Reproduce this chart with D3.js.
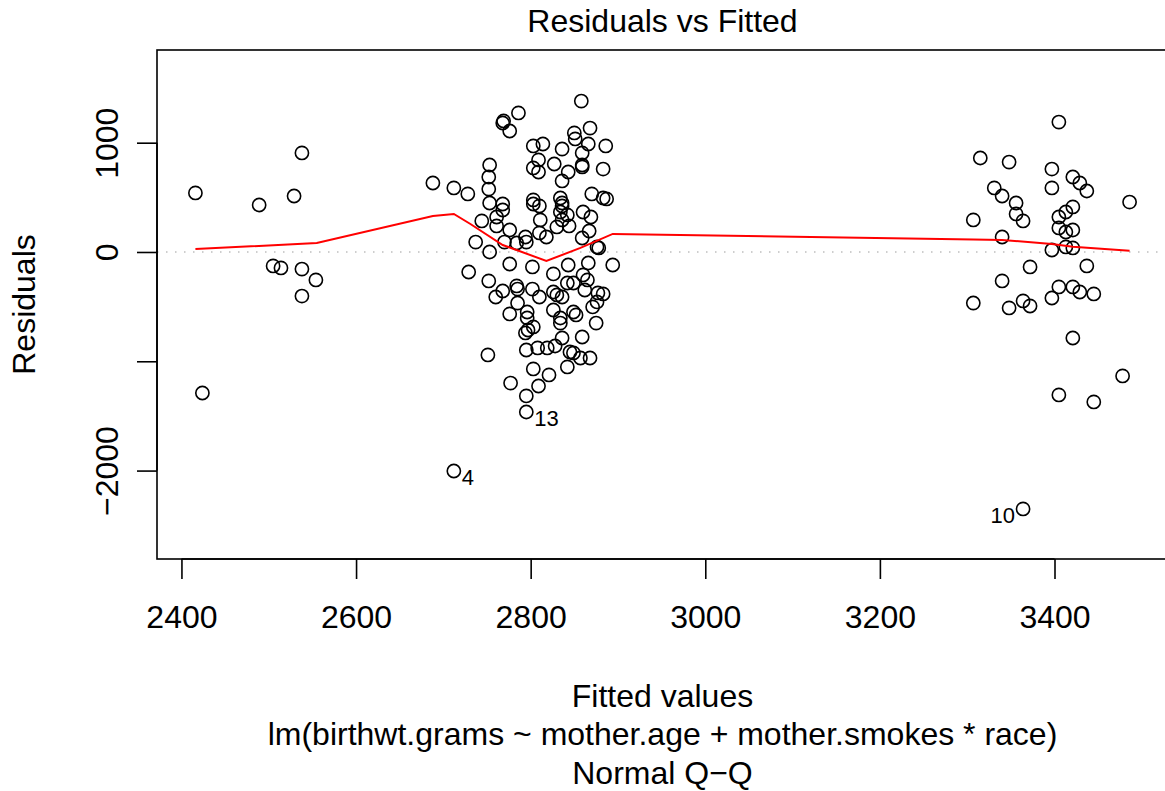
<!DOCTYPE html>
<html>
<head>
<meta charset="utf-8">
<script src="https://cdn.jsdelivr.net/npm/d3@7"></script>
<style>
  html, body { margin: 0; padding: 0; background: #fff; }
  svg { display: block; font-family: "Liberation Sans", Arial, sans-serif; }
</style>
</head>
<body>
<svg id="chart" width="1165" height="791"></svg>
<script>
// ---------- data ----------
const fittedValues = [
  2416, 2489, 2529, 2538, 2505, 2514, 2538, 2554, 2538, 2424, 2712,
  2688, 2712, 2728, 2744, 2737, 2729,
  2858, 2786, 2769, 2768, 2776, 2850, 2868, 2851, 2866, 2886, 2803, 2814, 2836, 2859,
  2753, 2809, 2803, 2809, 2827, 2843, 2836, 2859, 2859, 2883,
  2752, 2752, 2753, 2768, 2768, 2803, 2803, 2810, 2834, 2836, 2836, 2834, 2842, 2836,
  2830, 2844, 2860, 2869, 2870, 2883, 2887,
  2761, 2761, 2776, 2811, 2810, 2818, 2794, 2795, 2784, 2770, 2753, 2859, 2867, 2876, 2878,
  2776, 2802, 2826, 2843, 2866, 2894,
  2752, 2768, 2760, 2784, 2785, 2802, 2810, 2826, 2830, 2836, 2842, 2849, 2860, 2865,
  2862, 2877, 2883, 2876, 2871, 2785, 2776, 2796, 2796, 2803, 2797, 2794, 2826, 2834,
  2834, 2849, 2852, 2875, 2859, 2836, 2828, 2819, 2808, 2795, 2751, 2845, 2849, 2857,
  2868, 2842, 2803, 2821, 2777, 2809, 2795, 2795,
  3405, 3315, 3348, 3397, 3421, 3429, 3437, 3397, 3331, 3340, 3356, 3356, 3364, 3421,
  3413, 3405, 3405, 3413, 3421, 3486, 3307, 3340, 3397, 3413, 3421, 3437, 3372, 3340,
  3307, 3348, 3364, 3372, 3397, 3405, 3421, 3429, 3445, 3421, 3478, 3405, 3445, 3364
];
const residualValues = [
  540, 430, 512, 906, -128, -146, -156, -256, -403, -1290, -2004,
  631, 586, 531, 284, 91, -183,
  1381, 1272, 1199, 1180, 1107, 1089, 1134, 1034, 988, 970, 970, 988, 942, 906,
  796, 842, 769, 732, 805, 732, 650, 796, 778, 759,
  686, 576, 448, 439, 384, 476, 439, 421, 494, 448, 421, 366, 339, 293,
  229, 238, 366, 320, 531, 494, 485,
  320, 238, 201, 293, 174, 137, 137, 91, 82, 91, 0, 128, 192, 46, 37,
  -110, -137, -201, -119, -101, -119,
  -265, -357, -412, -311, -339, -339, -412, -366, -393, -412, -284, -284, -210, -256,
  -348, -375, -384, -457, -503, -467, -567, -549, -604, -686, -714, -741, -531, -604,
  -650, -549, -576, -650, -778, -787, -860, -878, -878, -897, -942, -915, -924, -970,
  -970, -1052, -1070, -1125, -1199, -1226, -1317, -1464,
  1189, 860, 823, 759, 686, 631, 558, 586, 586, 512, 448, 348, 284, 412,
  366, 320, 220, 183, 201, 457, 293, 137, 18, 46, 37, -128, -137, -265,
  -467, -512, -448, -494, -421, -320, -320, -366, -384, -787, -1134, -1308, -1372, -2351
];
// lowess smoother (red line)
const smoothFitted = [2416, 2555, 2688, 2712, 2731, 2768, 2818, 2857, 2894, 3307, 3340, 3397, 3421, 3486];
const smoothResid  = [27, 82, 329, 348, 256, 64, -82, 37, 165, 114, 110, 73, 48, 12];
// labelled extreme points
const idLabels = ["4", "13", "10"];
const idFitted = [2712, 2795, 3364];
const idResid  = [-2004, -1464, -2351];
const idSide   = ["right", "right", "left"];
// axis ticks
const xTicks = [2400, 2600, 2800, 3000, 3200, 3400];
const xTickLabels = ["2400", "2600", "2800", "3000", "3200", "3400"];
const yTicks = [-2000, -1000, 0, 1000];
const yTickLabels = ["\u22122000", "", "0", "1000"];
// texts
const titleText = "Residuals vs Fitted";
const xLabel = "Fitted values";
const yLabel = "Residuals";
const subText = "lm(birthwt.grams ~ mother.age + mother.smokes * race)";
const nextCaption = "Normal Q\u2212Q";

// ---------- layout ----------
const svg = d3.select("#chart");
const box = { left: 157, right: 1168, top: 50, bottom: 559 };
const xlim = [2372, 3530];
const ylim = [-2809, 1848];
const x = d3.scaleLinear().domain(xlim).range([box.left, box.right]);
const y = d3.scaleLinear().domain(ylim).range([box.bottom, box.top]);
const fs = 32;

// zero reference line (dotted grey)
svg.append("line")
  .attr("x1", box.left).attr("x2", box.right)
  .attr("y1", y(0)).attr("y2", y(0))
  .attr("stroke", "#bebebe").attr("stroke-width", 1.5)
  .attr("stroke-dasharray", "1.5,7.5");

// points
const pts = fittedValues.map((f, i) => ({ f, r: residualValues[i] }));
svg.append("g").selectAll("circle").data(pts).join("circle")
  .attr("cx", d => x(d.f)).attr("cy", d => y(d.r))
  .attr("r", 6.6)
  .attr("fill", "none").attr("stroke", "#000").attr("stroke-width", 1.6);

// lowess line
const line = d3.line().x(d => x(d[0])).y(d => y(d[1]));
svg.append("path")
  .datum(smoothFitted.map((f, i) => [f, smoothResid[i]]))
  .attr("d", line)
  .attr("fill", "none").attr("stroke", "#ff0000").attr("stroke-width", 2);

// id labels
svg.append("g").selectAll("text").data(idLabels).join("text")
  .attr("x", (d, i) => x(idFitted[i]) + (idSide[i] === "right" ? 8 : -8))
  .attr("y", (d, i) => y(idResid[i]) + 14)
  .attr("text-anchor", (d, i) => idSide[i] === "right" ? "start" : "end")
  .attr("font-size", 22)
  .text(d => d);

// box
svg.append("rect")
  .attr("x", box.left).attr("y", box.top)
  .attr("width", box.right - box.left).attr("height", box.bottom - box.top)
  .attr("fill", "none").attr("stroke", "#000").attr("stroke-width", 1.6);

// x axis
const xAxis = d3.axisBottom(x).tickValues(xTicks)
  .tickFormat((d, i) => xTickLabels[i]).tickSizeOuter(0).tickSizeInner(20).tickPadding(26);
const gx = svg.append("g").attr("transform", `translate(0,${box.bottom})`).call(xAxis);
gx.select(".domain").attr("d", `M${x(xTicks[0])},0H${x(xTicks[xTicks.length - 1])}`)
  .attr("stroke-width", 1.6);
gx.selectAll(".tick line").attr("stroke-width", 1.6);
gx.selectAll(".tick text").attr("font-size", fs).attr("font-family", "Liberation Sans, Arial, sans-serif");

// y axis
const yAxis = d3.axisLeft(y).tickValues(yTicks)
  .tickFormat((d, i) => yTickLabels[i]).tickSizeOuter(0).tickSizeInner(20);
const gy = svg.append("g").attr("transform", `translate(${box.left},0)`).call(yAxis);
gy.select(".domain").attr("d", `M0,${y(yTicks[0])}V${y(yTicks[yTicks.length - 1])}`)
  .attr("stroke-width", 1.6);
gy.selectAll(".tick line").attr("stroke-width", 1.6);
gy.selectAll(".tick text")
  .attr("font-size", fs).attr("font-family", "Liberation Sans, Arial, sans-serif")
  .attr("x", null).attr("dy", null)
  .attr("text-anchor", "middle")
  .attr("transform", "translate(-39,0) rotate(-90)");

// titles
const cx = (box.left + box.right) / 2;
svg.append("text").attr("x", cx).attr("y", 32).attr("text-anchor", "middle")
  .attr("font-size", fs).text(titleText);
svg.append("text").attr("x", cx).attr("y", 707).attr("text-anchor", "middle")
  .attr("font-size", fs).text(xLabel);
svg.append("text").attr("x", cx).attr("y", 745).attr("text-anchor", "middle")
  .attr("font-size", fs).text(subText);
svg.append("text").attr("x", cx).attr("y", 784).attr("text-anchor", "middle")
  .attr("font-size", fs).text(nextCaption);
svg.append("text")
  .attr("transform", `translate(35,${(box.top + box.bottom) / 2}) rotate(-90)`)
  .attr("text-anchor", "middle").attr("font-size", fs).text(yLabel);
</script>
</body>
</html>
